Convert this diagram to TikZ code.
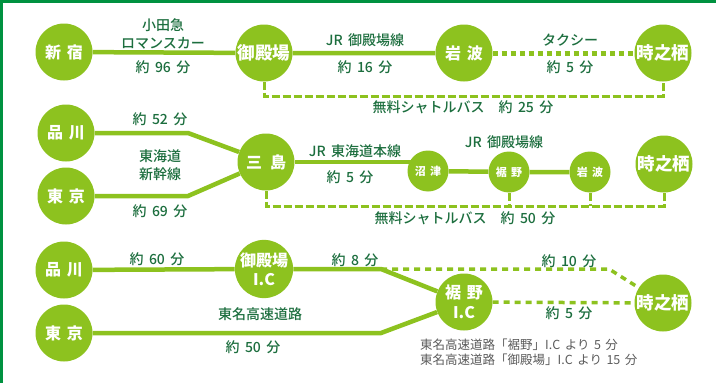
\documentclass[tikz,border=0pt]{standalone}
\usepackage{fontspec}
\setmainfont{Noto Sans CJK JP}[WordSpace=1.6]
\newfontfamily\medfont{Noto Sans CJK JP Medium}[WordSpace=1.7]
\usetikzlibrary{positioning, backgrounds}
\definecolor{colorStation}{RGB}{141,194,31}
\definecolor{colorText}{RGB}{28,110,62}
\definecolor{colorNote}{RGB}{90,90,90}
\definecolor{colorFrame}{RGB}{0,146,64}

\begin{document}
\begin{tikzpicture}[
    x=1pt, y=-1pt,
    station/.style={circle, fill=colorStation, minimum size=57pt, inner sep=0pt, align=center,
                    text=white, font=\bfseries\fontsize{16}{17}\selectfont},
    smallstation/.style={station, minimum size=41pt, font=\bfseries\fontsize{11}{12}\selectfont},
    infotext/.style={text=colorText, align=center, inner sep=1pt, font=\medfont\fontsize{14}{18}\selectfont},
    notetext/.style={text=colorNote, inner sep=1pt, font=\fontsize{12.5}{14}\selectfont},
    rail/.style={draw=colorStation, line width=4.5pt},
    taxi/.style={draw=colorStation, line width=5pt, dash pattern=on 5pt off 4pt},
    bus/.style={draw=colorStation, line width=3pt, dash pattern=on 8pt off 3pt},
    road/.style={draw=colorStation, line width=3.5pt, dash pattern=on 6pt off 5pt}
]
\useasboundingbox (0,0) rectangle (716,383);

% Frame
\draw[colorFrame, line width=2.5pt] (1.25,383) -- (1.25,1.25) -- (716,1.25);

% Row 1: Shinjuku route
\node[station] (Shinjuku) at (64,52) {新 宿};
\node[station, font=\bfseries\fontsize{17.5}{18}\selectfont] (Gotemba) at (264,53) {御殿場};
\node[station] (Iwanami) at (464,53) {岩 波};
\node[station, font=\bfseries\fontsize{17.5}{18}\selectfont] (TokiA) at (663,53) {時之栖};

\node[infotext] (Odakyu) at (163,34) {小田急\\ロマンスカー};
\node[infotext] (TimeA) at (163,67) {約 96 分};
\node[infotext] (JRGotembaA) at (365,40) {JR 御殿場線};
\node[infotext] (TimeB) at (365,67) {約 16 分};
\node[infotext] (Taxi) at (570,40) {タクシー};
\node[infotext] (TimeC) at (570,67) {約 5 分};
\node[infotext] (ShuttleA) at (463,107) {無料シャトルバス\hspace{1em}約 25 分};

% Row 2: Shinkansen route
\node[station] (ShinagawaA) at (66,133) {品 川};
\node[station] (TokyoA) at (66,196) {東 京};
\node[station] (Mishima) at (266,162) {三\hspace{0.5em}島};
\node[smallstation] (Numazu) at (428,171) {沼 津};
\node[smallstation] (Susono) at (509,172) {裾 野};
\node[smallstation] (IwanamiB) at (590,172) {岩 波};
\node[station, font=\bfseries\fontsize{17.5}{18}\selectfont] (TokiB) at (664,164) {時之栖};

\node[infotext] (TimeD) at (160,119) {約 52 分};
\node[infotext] (Shinkansen) at (160,165) {東海道\\新幹線};
\node[infotext] (TimeE) at (160,211) {約 69 分};
\node[infotext] (Tokaido) at (355,151) {JR 東海道本線};
\node[infotext] (TimeF) at (350,177) {約 5 分};
\node[infotext] (JRGotembaB) at (504,142) {JR 御殿場線};
\node[infotext] (ShuttleB) at (465,218) {無料シャトルバス\hspace{1em}約 50 分};

% Row 3: Expressway route
\node[station] (ShinagawaB) at (64,270) {品 川};
\node[station] (TokyoB) at (64,333) {東 京};
\node[station, font=\bfseries\fontsize{16}{19}\selectfont] (GotembaIC) at (264,269) {御殿場\\I.C};
\node[station, font=\bfseries\fontsize{16}{20}\selectfont] (SusonoIC) at (464,302) {裾 野\\I.C};
\node[station, font=\bfseries\fontsize{17.5}{18}\selectfont] (TokiC) at (663,303) {時之栖};

\node[infotext] (TimeG) at (157,259) {約 60 分};
\node[infotext] (TimeH) at (355,260) {約 8 分};
\node[infotext] (Tomei) at (260,314) {東名高速道路};
\node[infotext] (TimeI) at (253,347) {約 50 分};
\node[infotext] (TimeJ) at (569,261) {約 10 分};
\node[infotext] (TimeK) at (569,313) {約 5 分};
\node[notetext, anchor=west] (NoteA) at (419,345) {東名高速道路「裾野」I.C より 5 分};
\node[notetext, below=1pt of NoteA.south west, anchor=north west] (NoteB) {東名高速道路「御殿場」I.C より 15 分};

% Connectors
\begin{scope}[on background layer]
    \coordinate (BusA) at (264,96);
    \coordinate (ForkA) at (188,133);
    \coordinate (ForkB) at (188,196);
    \coordinate (BusB) at (266,206);
    \coordinate (ForkC) at (381,269);
    \coordinate (ForkD) at (381,333);
    \coordinate (BendC) at (609,269);

    \draw[rail] (Shinjuku) -- (Gotemba) -- (Iwanami);
    \draw[taxi] (Iwanami.east) -- (TokiA.west);
    \draw[bus] (Gotemba.south) -- (BusA) -| (TokiA.south);

    \draw[rail] (ShinagawaA) -- (ForkA) -- (Mishima);
    \draw[rail] (TokyoA) -- (ForkB) -- (Mishima);
    \draw[rail] (Mishima) -- (Mishima -| Numazu);
    \draw[rail] (Numazu) -- (Susono) -- (IwanamiB);
    \draw[bus] (Mishima.south) -- (BusB) -| (TokiB.south);
    \draw[bus] (Susono.south) -- (Susono.south |- BusB);
    \draw[bus] (IwanamiB.south) -- (IwanamiB.south |- BusB);

    \draw[rail] (ShinagawaB) -- (GotembaIC) -- (ForkC) -- (SusonoIC);
    \draw[rail] (TokyoB) -- (ForkD) -- (SusonoIC);
    \draw[road] (ForkC) -- (BendC) -- (TokiC);
    \draw[road] (SusonoIC) -- (TokiC);
\end{scope}

\end{tikzpicture}
\end{document}
